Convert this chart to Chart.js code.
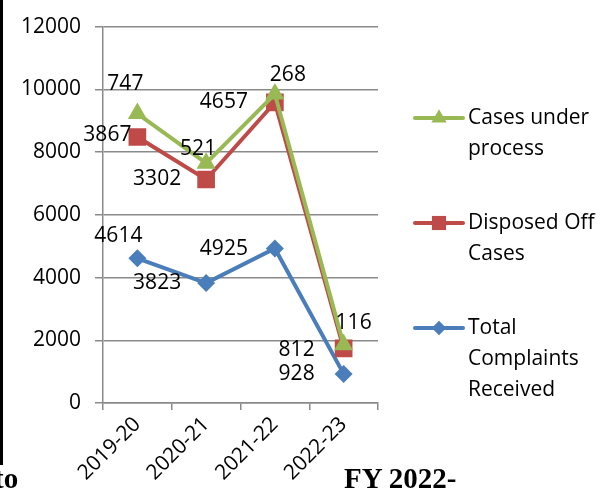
<!DOCTYPE html>
<html>
<head>
<meta charset="utf-8">
<script src="https://cdn.jsdelivr.net/npm/chart.js@4.4.1/dist/chart.umd.min.js"></script>
<style>
  html, body { margin: 0; padding: 0; background: #fff; }
  #wrap { position: relative; width: 616px; height: 500px; overflow: hidden; }
  #chart { position: absolute; left: 0; top: 0; }
  .edge { position: absolute; left: 0; top: 0; width: 3px; height: 465px; background: #000; }
  .doc { position: absolute; font-family: "Liberation Serif", serif; font-weight: bold; font-size: 29px; color: #000; white-space: nowrap; }
</style>
</head>
<body>
<div id="wrap">
  <canvas id="chart" width="616" height="500"></canvas>
  <div class="edge"></div>
  <div class="doc" style="left:-6px; top:462px;">to</div>
  <div class="doc" style="left:344px; top:462px;">FY 2022-</div>
</div>
<script>
// --- data ---
const years = ['2019-20', '2020-21', '2021-22', '2022-23'];
const received = [4614, 3823, 4925, 928];
const disposed = [3867, 3302, 4657, 812];
const underProcess = [747, 521, 268, 116];
const yTicks = [0, 2000, 4000, 6000, 8000, 10000, 12000];

// stacked line (Excel style): each series sits on top of the one below
const disposedTop = disposed.map((v, i) => v + received[i]);
const processTop = underProcess.map((v, i) => v + disposedTop[i]);

const FONT = 'Open Sans';
Chart.defaults.font.family = FONT;
Chart.defaults.color = '#000';
const GRID = '#8a8a8a';

// --- data labels, placed a bit left / above each point like the original ---
const valueLabels = {
    id: 'valueLabels',
    afterDatasetsDraw(chart) {
        const ctx = chart.ctx;
        ctx.save();
        ctx.font = '21px ' + FONT;
        ctx.fillStyle = '#000';
        ctx.textAlign = 'center';
        ctx.textBaseline = 'middle';
        chart.data.datasets.forEach((ds, di) => {
            const meta = chart.getDatasetMeta(di);
            meta.data.forEach((pt, i) => {
                const off = ds.labelOffsets[i];
                ctx.fillText(String(ds.values[i]), pt.x + off[0], pt.y + off[1]);
            });
        });
        ctx.restore();
    }
};

// --- right-hand legend with wrapped names ---
const sideLegend = {
    id: 'sideLegend',
    afterDraw(chart) {
        const ctx = chart.ctx;
        const order = [2, 1, 0];
        const rows = [118, 223, 328];
        ctx.save();
        ctx.font = '21px ' + FONT;
        ctx.textBaseline = 'middle';
        ctx.fillStyle = '#000';
        order.forEach((di, k) => {
            const ds = chart.data.datasets[di];
            const y = rows[k];
            ctx.strokeStyle = ds.borderColor;
            ctx.lineWidth = 4;
            ctx.lineCap = 'round';
            ctx.beginPath();
            ctx.moveTo(415, y);
            ctx.lineTo(463, y);
            ctx.stroke();
            ctx.fillStyle = ds.borderColor;
            Chart.helpers.drawPoint(ctx, {
                pointStyle: ds.pointStyle, radius: ds.pointRadius * 0.8, borderWidth: 0
            }, 439, y);
            // wrap name
            const words = ds.label.split(' ');
            const lines = [];
            let cur = '';
            words.forEach(w => {
                const t = cur ? cur + ' ' + w : w;
                if (ctx.measureText(t).width > 145 && cur) { lines.push(cur); cur = w; } else { cur = t; }
            });
            lines.push(cur);
            ctx.fillStyle = '#000';
            lines.forEach((ln, j) => ctx.fillText(ln, 468, y + j * 31));
        });
        ctx.restore();
    }
};

new Chart(document.getElementById('chart'), {
    type: 'line',
    data: {
        labels: years,
        datasets: [{
            label: 'Total Complaints Received',
            data: received,
            values: received,
            borderColor: '#4A7EBB',
            backgroundColor: '#4A7EBB',
            pointStyle: 'rectRot',
            pointRadius: 9,
            order: 2,
            labelOffsets: [[-19, -22], [-49, 0], [-51, 0], [-47, 0]]
        }, {
            label: 'Disposed Off Cases',
            data: disposedTop,
            values: disposed,
            borderColor: '#BE4B48',
            backgroundColor: '#BE4B48',
            pointStyle: 'rect',
            pointRadius: 12.5,
            order: 1,
            labelOffsets: [[-30, -2], [-49, 0], [-51, 0], [-47, 2]]
        }, {
            label: 'Cases under process',
            data: processTop,
            values: underProcess,
            borderColor: '#98B954',
            backgroundColor: '#98B954',
            pointStyle: 'triangle',
            pointRadius: 11,
            order: 0,
            labelOffsets: [[-12, -30], [-8, -14], [13, -19], [10, -22]]
        }]
    },
    options: {
        responsive: false,
        animation: false,
        events: [],
        layout: { autoPadding: false, padding: { left: 0, top: 21, right: 238, bottom: 0 } },
        elements: {
            line: { borderWidth: 4, tension: 0, fill: false },
            point: { borderWidth: 0, hoverRadius: 0 }
        },
        plugins: { legend: { display: false }, tooltip: { enabled: false } },
        scales: {
            x: {
                offset: true,
                grid: { offset: true, drawOnChartArea: false, color: GRID, lineWidth: 1.5, tickLength: 7 },
                border: { color: GRID, width: 1.5 },
                ticks: { font: { size: 21 }, maxRotation: 45, minRotation: 45, padding: 2 },
                afterFit: s => { s.height = 97; }
            },
            y: {
                min: 0,
                max: 12000,
                afterBuildTicks: s => { s.ticks = yTicks.map(v => ({ value: v })); },
                grid: { color: GRID, lineWidth: 1.5, tickLength: 8 },
                border: { color: GRID, width: 1.5 },
                ticks: { font: { size: 21 }, padding: 14, callback: v => String(v) },
                afterFit: s => { s.width = 103; }
            }
        }
    },
    plugins: [valueLabels, sideLegend]
});
</script>
</body>
</html>
